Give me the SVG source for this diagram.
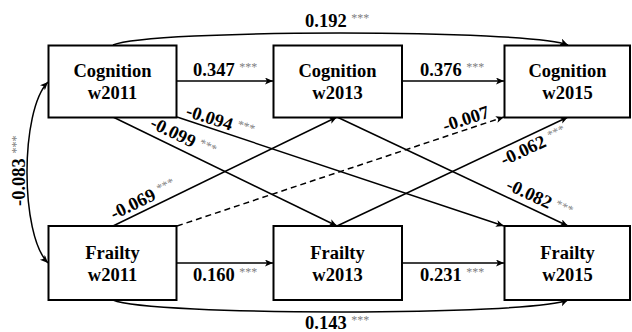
<svg xmlns="http://www.w3.org/2000/svg" width="632" height="332" viewBox="0 0 632 332">
<defs>
<style>
.box{fill:#fff;stroke:#000;stroke-width:2}
.nt{font-weight:bold;font-size:18.5px;fill:#000;text-anchor:middle}
.c{fill:none;stroke:#000;stroke-width:1.5}
.d{stroke-dasharray:6,4}
.lb{font-weight:bold;font-size:18.5px;fill:#000}
.st{font-size:12px;font-weight:normal;fill:#808080}
</style>
<marker id="ah" markerWidth="9" markerHeight="8" refX="8" refY="3.5" orient="auto-start-reverse" markerUnits="userSpaceOnUse">
<path d="M0,0 L8,3.5 L0,7 L2,3.5 z" fill="#000"/>
</marker>
</defs>
<rect width="632" height="332" fill="#fff"/>
<g id="connectors">
<path class="c" d="M177,81 H273" marker-end="url(#ah)"/>
<path class="c" d="M402,81 H504" marker-end="url(#ah)"/>
<path class="c" d="M177,263 H273" marker-end="url(#ah)"/>
<path class="c" d="M402,263 H504" marker-end="url(#ah)"/>
<path class="c" d="M113,45 C150,29 530,29 568,45" marker-end="url(#ah)"/>
<path class="c" d="M113,300 C150,316 530,316 568,300" marker-end="url(#ah)"/>
<path class="c" d="M48,82 C20,110 20,235 48,263" marker-start="url(#ah)" marker-end="url(#ah)"/>
<path class="c" d="M113,117 L337,226" marker-end="url(#ah)"/>
<path class="c" d="M177,117 L504,226" marker-end="url(#ah)"/>
<path class="c" d="M113,226 L337,117" marker-end="url(#ah)"/>
<path class="c d" d="M177,226 L504,117" marker-end="url(#ah)"/>
<path class="c" d="M337,117 L568,226" marker-end="url(#ah)"/>
<path class="c" d="M337,226 L568,117" marker-end="url(#ah)"/>
</g>
<g id="labels" font-family="'Liberation Serif', Tinos, 'Times New Roman', 'DejaVu Serif', serif">
<text class="lb" x="193" y="76">0.347 <tspan class="st" dy="-5">***</tspan></text>
<text class="lb" x="420" y="76">0.376 <tspan class="st" dy="-5">***</tspan></text>
<text class="lb" x="193" y="281">0.160 <tspan class="st" dy="-5">***</tspan></text>
<text class="lb" x="420" y="281">0.231 <tspan class="st" dy="-5">***</tspan></text>
<text class="lb" x="305" y="27">0.192 <tspan class="st" dy="-5">***</tspan></text>
<text class="lb" x="305" y="329">0.143 <tspan class="st" dy="-5">***</tspan></text>
<text class="lb" transform="translate(25,206) rotate(-90)">-0.083 <tspan class="st" dy="-5">***</tspan></text>
<text class="lb" transform="translate(185,116) rotate(18)">-0.094 <tspan class="st" dy="-5">***</tspan></text>
<text class="lb" transform="translate(149,127) rotate(26)">-0.099 <tspan class="st" dy="-5">***</tspan></text>
<text class="lb" transform="translate(114,220) rotate(-26)">-0.069 <tspan class="st" dy="-5">***</tspan></text>
<text class="lb" transform="translate(445,132) rotate(-18)">-0.007</text>
<text class="lb" transform="translate(504,166) rotate(-25)">-0.062 <tspan class="st" dy="-5">***</tspan></text>
<text class="lb" transform="translate(505,189) rotate(25)">-0.082 <tspan class="st" dy="-5">***</tspan></text>
</g>
<g font-family="'Liberation Serif', Tinos, 'Times New Roman', 'DejaVu Serif', serif">
<g id="cog2011"><rect class="box" x="48.5" y="45.5" width="128" height="72"/><text class="nt" x="112.5" y="77">Cognition</text><text class="nt" x="112.5" y="99">w2011</text></g>
<g id="cog2013"><rect class="box" x="273.5" y="45.5" width="128.5" height="72"/><text class="nt" x="337.5" y="77">Cognition</text><text class="nt" x="337.5" y="99">w2013</text></g>
<g id="cog2015"><rect class="box" x="504.5" y="45.5" width="125.5" height="72"/><text class="nt" x="567.5" y="77">Cognition</text><text class="nt" x="567.5" y="99">w2015</text></g>
<g id="fra2011"><rect class="box" x="48.5" y="226" width="128" height="74"/><text class="nt" x="112.5" y="259">Frailty</text><text class="nt" x="112.5" y="281">w2011</text></g>
<g id="fra2013"><rect class="box" x="273.5" y="226" width="128.5" height="74"/><text class="nt" x="337.5" y="259">Frailty</text><text class="nt" x="337.5" y="281">w2013</text></g>
<g id="fra2015"><rect class="box" x="504.5" y="226" width="125.5" height="74"/><text class="nt" x="567.5" y="259">Frailty</text><text class="nt" x="567.5" y="281">w2015</text></g>
</g>
</svg>
